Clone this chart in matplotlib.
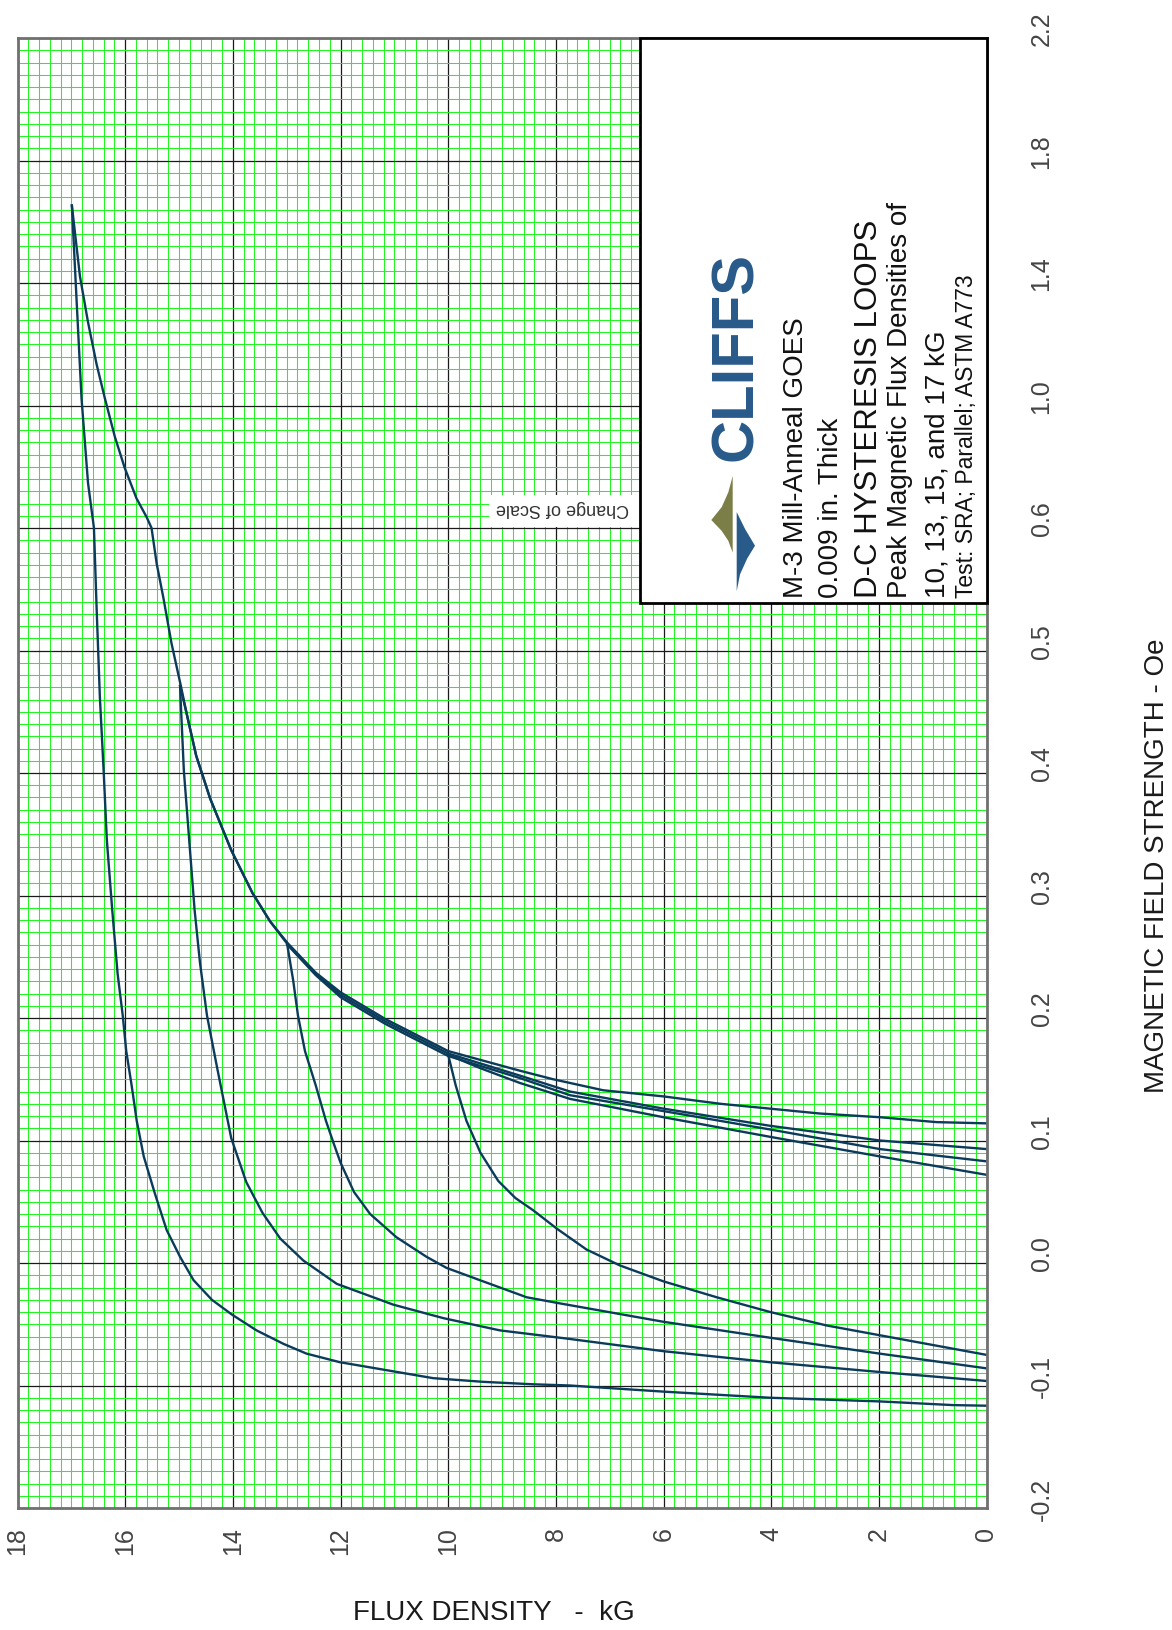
import numpy as np
import matplotlib
matplotlib.use("Agg")
import matplotlib.pyplot as plt
from matplotlib.patches import Rectangle, Polygon
from matplotlib.transforms import ScaledTranslation

plt.rcParams['font.family'] = ['Liberation Sans', 'DejaVu Sans']

# peak flux densities of the loops, kG
peaks = [10, 13, 15, 17]

# descending branches (B in kG, H in Oe), from the tip down to B = 0
b_desc_17 = [16.99, 16.90, 16.81, 16.69, 16.58, 16.53, 16.47, 16.40, 16.34, 16.24, 16.14, 16.045,
             15.98, 15.88, 15.785, 15.655, 15.45, 15.23, 14.98, 14.73, 14.39, 14.02, 13.56, 13.06,
             12.63, 12.01, 11.21, 10.28, 9.35, 8.43, 7.74, 6.00, 4.02, 1.98, 0.62, 0.0]
h_desc_17 = [1.653, 1.335, 1.022, 0.747, 0.600, 0.534, 0.462, 0.402, 0.345, 0.288, 0.236, 0.202,
             0.173, 0.145, 0.116, 0.087, 0.057, 0.027, 0.005, -0.014, -0.030, -0.042, -0.055, -0.066,
             -0.074, -0.081, -0.087, -0.094, -0.097, -0.099, -0.100, -0.105, -0.110, -0.113, -0.116, -0.1165]

b_desc_15 = [14.98, 14.97, 14.91, 14.81, 14.71, 14.61, 14.48, 14.29, 14.03, 13.75, 13.45, 13.12,
             12.69, 12.07, 11.70, 11.02, 10.09, 9.04, 7.74, 6.00, 4.02, 1.98, 0.0]
h_desc_15 = [0.471, 0.460, 0.402, 0.345, 0.288, 0.245, 0.202, 0.159, 0.102, 0.066, 0.041, 0.020,
             0.002, -0.017, -0.023, -0.034, -0.045, -0.055, -0.062, -0.072, -0.081, -0.089, -0.0963]

b_desc_13 = [12.99, 12.88, 12.79, 12.66, 12.46, 12.27, 12.13, 12.00, 11.75, 11.45, 10.96, 10.40,
             10.03, 9.35, 8.54, 7.92, 6.00, 4.02, 1.98, 0.0]
h_desc_13 = [0.260, 0.231, 0.202, 0.173, 0.145, 0.116, 0.098, 0.082, 0.058, 0.040, 0.021, 0.005,
             -0.004, -0.015, -0.028, -0.033, -0.048, -0.061, -0.074, -0.086]

b_desc_10 = [10.0, 9.86, 9.66, 9.40, 9.07, 8.75, 8.42, 7.98, 7.43, 6.81, 6.00, 5.01, 4.02, 2.97,
             1.98, 0.99, 0.0]
h_desc_10 = [0.170, 0.145, 0.116, 0.090, 0.067, 0.053, 0.043, 0.028, 0.011, -0.002, -0.015, -0.028,
             -0.040, -0.051, -0.059, -0.067, -0.075]

# ascending branches, from B = 0 up to the tip
b_asc_17 = [0.0, 0.93, 1.98, 3.09, 4.02, 4.95, 6.00, 7.12, 8.05, 8.67, 10.0, 11.16, 12.00, 12.46,
            12.98, 13.31, 13.635, 14.03, 14.42, 14.68, 14.84, 14.98, 15.14, 15.29, 15.415, 15.51,
            15.60, 15.79, 16.01, 16.19, 16.375, 16.53, 16.69, 16.84, 16.99]
h_asc_17 = [0.114, 0.115, 0.119, 0.122, 0.126, 0.130, 0.136, 0.141, 0.150, 0.157, 0.173, 0.199,
            0.221, 0.237, 0.261, 0.279, 0.302, 0.337, 0.379, 0.414, 0.445, 0.474, 0.506, 0.543,
            0.571, 0.600, 0.635, 0.697, 0.797, 0.897, 1.022, 1.134, 1.272, 1.422, 1.653]

b_asc_15 = [0.0, 1.98, 4.02, 6.00, 7.74, 8.67, 10.0, 11.16, 12.0, 12.46, 12.98, 13.31, 13.635,
            14.03, 14.42, 14.68, 14.84, 14.98]
h_asc_15 = [0.093, 0.100, 0.112, 0.126, 0.140, 0.153, 0.171, 0.197, 0.219, 0.236, 0.260, 0.279,
            0.302, 0.337, 0.379, 0.414, 0.445, 0.471]

b_asc_13 = [0.0, 1.98, 4.02, 6.00, 7.74, 8.67, 10.0, 11.16, 12.0, 12.46, 12.99]
h_asc_13 = [0.083, 0.093, 0.109, 0.124, 0.137, 0.151, 0.169, 0.195, 0.217, 0.235, 0.260]

b_asc_10 = [0.0, 1.98, 4.02, 6.00, 7.74, 8.67, 9.4, 10.0]
h_asc_10 = [0.072, 0.087, 0.103, 0.119, 0.134, 0.147, 0.159, 0.170]

# axis ticks
b_ticks = [18, 16, 14, 12, 10, 8, 6, 4, 2, 0]
h_ticks = [-0.2, -0.1, 0.0, 0.1, 0.2, 0.3, 0.4, 0.5, 0.6, 1.0, 1.4, 1.8, 2.2]
h_labels = ['-0.2', '-0.1', '0.0', '0.1', '0.2', '0.3', '0.4', '0.5', '0.6', '1.0', '1.4', '1.8', '2.2']

box_lines = ['M-3 Mill-Anneal GOES', '0.009 in. Thick', 'D-C HYSTERESIS LOOPS',
             'Peak Magnetic Flux Densities of', '10, 13, 15, and 17 kG',
             'Test: SRA; Parallel; ASTM A773']


# H axis changes scale at 0.6 Oe: 0.1 per division below, 0.4 per division above
def fwd(h):
    h = np.asarray(h, dtype=float)
    return np.where(h <= 0.6, (h + 0.2) / 0.1, 8 + (h - 0.6) / 0.4)


def inv(u):
    u = np.asarray(u, dtype=float)
    return np.where(u <= 8, u * 0.1 - 0.2, 0.6 + (u - 8) * 0.4)


W, H = 1172, 1630
fig = plt.figure(figsize=(W / 100, H / 100), dpi=100)
ax = fig.add_axes([17.5 / W, 1 - 1508 / H, 969 / W, 1470 / H])
ax.set_yscale('function', functions=(fwd, inv))
ax.set_xlim(18, 0)
ax.set_ylim(-0.2, 2.2)


def fx(x):
    return x / W


def fy(y):
    return 1 - y / H


def axx(x):
    return (x - 17.5) / 969


def axy(y):
    return (1508 - y) / 1470


# grid paper
minor_h = [v for v in np.round(np.arange(-0.2, 0.6001, 0.01), 3)] + \
          [v for v in np.round(np.arange(0.64, 2.2001, 0.04), 3)]
ax.set_xticks(b_ticks, [str(b) for b in b_ticks])
ax.set_xticks(np.round(np.arange(0, 18.001, 0.2), 2), minor=True)
ax.set_yticks(h_ticks, h_labels)
ax.set_yticks(minor_h, minor=True)
ax.set_axisbelow(True)
ax.grid(which='minor', color='#22f522', lw=0.75)
ax.grid(which='major', color='#1a1a1a', lw=0.9)
for s in ax.spines.values():
    s.set_color('#707070')
    s.set_linewidth(2)

ax.tick_params(which='both', length=0)
ax.tick_params(axis='x', labelrotation=90, pad=14, labelsize=18, labelcolor='#444444')
ax.yaxis.tick_right()
ax.tick_params(axis='y', labelrotation=90, pad=31, labelsize=18, labelcolor='#444444')
# the H labels sit a little above their grid lines
lift = ScaledTranslation(0, 9 / 100, fig.dpi_scale_trans)
for lab in ax.get_yticklabels():
    lab.set_fontfamily(['Liberation Sans Narrow', 'Liberation Sans'])
    lab.set_va('center')
    lab.set_ha('left')
    lab.set_transform(lab.get_transform() + lift)

ax.set_xlabel('FLUX DENSITY   -  kG', fontsize=20, color='#1a1a1a', va='center')
ax.xaxis.set_label_coords(axx(494), axy(1613))
ax.yaxis.set_label_position('right')
ax.set_ylabel('MAGNETIC FIELD STRENGTH - Oe', fontsize=20, color='#1a1a1a', rotation=90,
              rotation_mode='anchor', ha='center', va='center')
ax.yaxis.set_label_coords(axx(1157), axy(866))

# loops
curve_color = '#0b3b5a'
branches = [(b_desc_17, h_desc_17), (b_asc_17, h_asc_17),
            (b_desc_15, h_desc_15), (b_asc_15, h_asc_15),
            (b_desc_13, h_desc_13), (b_asc_13, h_asc_13),
            (b_desc_10, h_desc_10), (b_asc_10, h_asc_10)]
for b, h in branches:
    ax.plot(b, h, color=curve_color, lw=1.7, solid_joinstyle='round', zorder=2)

# change of scale note
ax.add_patch(Rectangle((axx(489), axy(527)), axx(640) - axx(489), axy(495) - axy(527),
                       transform=ax.transAxes, facecolor='white', edgecolor='none', zorder=3))
fig.text(fx(562), fy(509), 'Change of Scale', rotation=180, ha='center', va='center',
         fontsize=13, color='#333333')

# title box
ax.add_patch(Rectangle((axx(640), axy(603)), axx(987) - axx(640), axy(38) - axy(603),
                       transform=ax.transAxes, facecolor='white', edgecolor='black', lw=2,
                       zorder=4, clip_on=False))

olive = [(732.7, 476.0), (728.3, 492.3), (721.7, 507.1), (711.3, 520.0), (721.7, 530.9),
         (728.3, 540.8), (732.7, 552.6)]
blue = [(736.7, 512.1), (745.0, 528.9), (755.0, 545.7), (747.2, 558.5), (740.0, 574.4),
        (736.7, 591.2)]
fig.add_artist(Polygon([(fx(x), fy(y)) for x, y in olive], closed=True, transform=fig.transFigure,
                       facecolor='#7b7f47', edgecolor='none', zorder=5))
fig.add_artist(Polygon([(fx(x), fy(y)) for x, y in blue], closed=True, transform=fig.transFigure,
                       facecolor='#285a8a', edgecolor='none', zorder=5))
fig.text(fx(752), fy(461), 'CLIFFS', rotation=90, rotation_mode='anchor', ha='left',
         va='baseline', fontsize=43, fontweight='bold', color='#285a8a', zorder=5)

line_x = [803, 838, 877, 907, 944, 973]
line_size = [20, 20, 22.5, 20, 20, 16.5]
for s, x, fs in zip(box_lines, line_x, line_size):
    fig.text(fx(x), fy(598), s, rotation=90, rotation_mode='anchor', ha='left', va='baseline',
             fontsize=fs, color='#111111', zorder=5)

fig.savefig('out.png', dpi=100)
